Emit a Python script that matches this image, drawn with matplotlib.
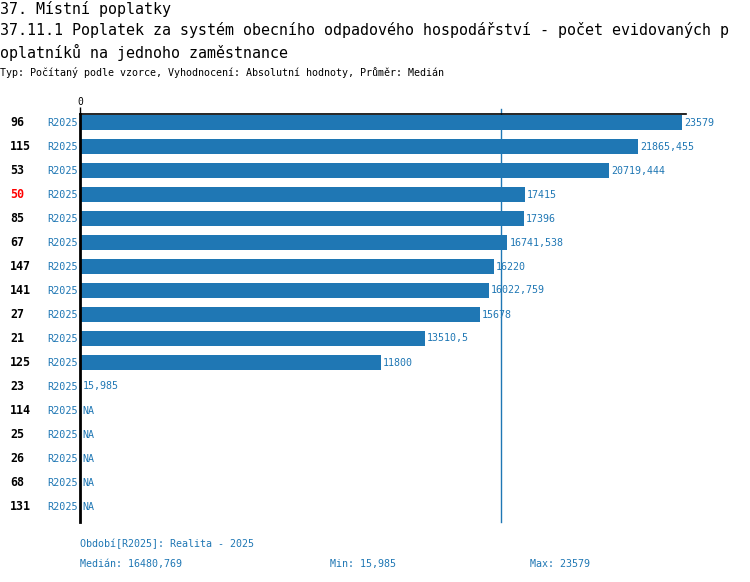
import matplotlib
matplotlib.use("Agg")
import matplotlib.pyplot as plt
from matplotlib.transforms import ScaledTranslation

categories = ["96", "115", "53", "50", "85", "67", "147", "141", "27", "21", "125",
              "23", "114", "25", "26", "68", "131"]
period_labels = ["R2025"] * 17
values = [23579, 21865.455, 20719.444, 17415, 17396, 16741.538, 16220, 16022.759,
          15678, 13510.5, 11800, 15.985, None, None, None, None, None]
value_labels = ["23579", "21865,455", "20719,444", "17415", "17396", "16741,538",
                "16220", "16022,759", "15678", "13510,5", "11800", "15,985",
                "NA", "NA", "NA", "NA", "NA"]
highlight = "50"
median = 16480.769
median_label = "16480,769"
min_label = "15,985"
max_label = "23579"

W, H = 750, 582
fig = plt.figure(figsize=(W / 100, H / 100), dpi=100)
mono = "DejaVu Sans Mono"
blue = "#1f77b4"

ax_left, ax_right, ax_top, ax_bottom = 80, 686, 114, 522
ax = fig.add_axes([ax_left / W, 1 - ax_bottom / H, (ax_right - ax_left) / W,
                   (ax_bottom - ax_top) / H])

vmax = max(v for v in values if v is not None)
xmax = vmax * (ax_right - ax_left) / (682 - ax_left)
ax.set_xlim(0, xmax)
ax.set_ylim(16 + 15.5 / 24, -8.5 / 24)

right_shift = ax.transData + ScaledTranslation(2 / 100, 0, fig.dpi_scale_trans)
left_shift = ax.transData + ScaledTranslation(-2 / 100, 0, fig.dpi_scale_trans)

for i, (v, lab) in enumerate(zip(values, value_labels)):
    if v is not None:
        ax.barh(i, v, height=0.66, color=blue, zorder=2)
        xv = v
    else:
        xv = 0
    ax.text(xv, i, lab, color=blue, fontsize=7.2, family=mono,
            va="center", ha="left", transform=right_shift)

for i, p in enumerate(period_labels):
    ax.text(0, i, p, color=blue, fontsize=7.3, family=mono,
            va="center", ha="right", transform=left_shift)

for i, c in enumerate(categories):
    ypix = 122.5 + 24 * i
    fig.text(10 / W, 1 - ypix / H, c, color="red" if c == highlight else "black",
             fontsize=8.4, family=mono, fontweight="bold", va="center", ha="left")

ax.axvline(median, ymin=0, ymax=1.012, color=blue, lw=1, zorder=1, clip_on=False)

for s in ["right", "bottom"]:
    ax.spines[s].set_visible(False)
ax.spines["left"].set_linewidth(2)
ax.spines["left"].set_color("black")
ax.spines["top"].set_linewidth(1.2)
ax.spines["top"].set_color("black")
ax.xaxis.tick_top()
ax.set_xticks([0])
ax.set_xticklabels(["0"], family=mono, fontsize=7)
ax.tick_params(axis="x", length=5, width=1, pad=0)
ax.set_yticks([])

tfs = 10.8
fig.text(0 / W, 1 - 9 / H, "37. Místní poplatky", fontsize=tfs, family=mono,
         va="center", ha="left")
fig.text(0 / W, 1 - 30 / H,
         "37.11.1 Poplatek za systém obecního odpadového hospodářství - počet evidovaných p",
         fontsize=tfs, family=mono, va="center", ha="left")
fig.text(0 / W, 1 - 52 / H, "oplatníků na jednoho zaměstnance", fontsize=tfs,
         family=mono, va="center", ha="left")
fig.text(0 / W, 1 - 73 / H,
         "Typ: Počítaný podle vzorce, Vyhodnocení: Absolutní hodnoty, Průměr: Medián",
         fontsize=7.2, family=mono, va="center", ha="left")

ffs = 7.2
fig.text(80 / W, 1 - 544 / H, "Období[R2025]: Realita - 2025", fontsize=ffs,
         family=mono, color=blue, va="center", ha="left")
fig.text(80 / W, 1 - 564 / H, "Medián: " + median_label, fontsize=ffs,
         family=mono, color=blue, va="center", ha="left")
fig.text(330 / W, 1 - 564 / H, "Min: " + min_label, fontsize=ffs,
         family=mono, color=blue, va="center", ha="left")
fig.text(530 / W, 1 - 564 / H, "Max: " + max_label, fontsize=ffs,
         family=mono, color=blue, va="center", ha="left")

fig.savefig("out.png", dpi=100)
